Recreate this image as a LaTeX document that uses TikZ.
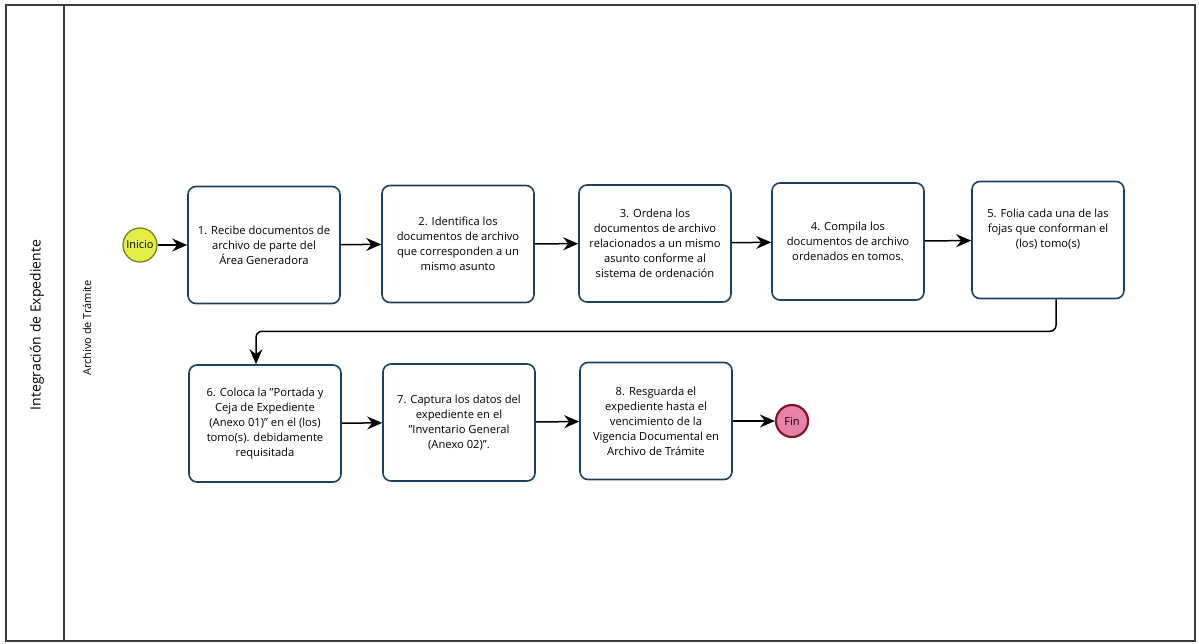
\documentclass[tikz,border=0pt]{standalone}
\usepackage{fontspec}
\setmainfont{Open Sans}
\usetikzlibrary{arrows.meta}
\definecolor{taskblue}{RGB}{28,66,96}
\definecolor{startfill}{RGB}{228,238,70}
\definecolor{startline}{RGB}{120,130,30}
\definecolor{endfill}{RGB}{232,130,168}
\definecolor{endline}{RGB}{130,20,40}
\definecolor{poolline}{RGB}{60,60,60}
\tikzset{
  task/.style={draw=taskblue, line width=1.6pt, rounded corners=8pt, fill=white,
    minimum width=152pt, minimum height=117pt, align=center, inner sep=2pt,
    font=\fontsize{11.2}{15}\selectfont},
  startev/.style={circle, draw=startline, line width=1.3pt, fill=startfill,
    minimum size=34pt, inner sep=0pt, font=\fontsize{11}{12}\selectfont},
  endev/.style={circle, draw=endline, line width=2.2pt, fill=endfill,
    minimum size=32pt, inner sep=0pt, font=\fontsize{11}{12}\selectfont},
  flow/.style={line width=1.5pt, -{Stealth[length=15pt,width=13pt,inset=5pt]}},
}
\begin{document}
\begin{tikzpicture}[x=1pt,y=-1pt]
\useasboundingbox (0,0) rectangle (1199,643);
% pool and lane frame
\draw[poolline, line width=1.3pt] (6,5) rectangle (1195,641);
\draw[poolline, line width=1.3pt] (64,5) -- (64,641);
\node[rotate=90, font=\fontsize{14}{16}\selectfont] (pool) at (37,325) {Integración de Expediente};
\node[rotate=90, font=\fontsize{11}{13}\selectfont] (lane) at (87,328) {Archivo de Trámite};

% events
\node[startev] (inicio) at (140,245) {Inicio};
\node[endev] (fin) at (792,421) {Fin};

% tasks, first row
\node[task] (t1) at (264,245) {1. Recibe documentos de\\archivo de parte del\\Área Generadora};
\node[task] (t2) at (458,244) {2. Identifica los\\documentos de archivo\\que corresponden a un\\mismo asunto};
\node[task] (t3) at (655,243.5) {3. Ordena los\\documentos de archivo\\relacionados a un mismo\\asunto conforme al\\sistema de ordenación};
\node[task] (t4) at (848,241.5) {4. Compila los\\documentos de archivo\\ordenados en tomos.};
\node[task] (t5) at (1048,240) {5. Folia cada una de las\\fojas que conforman el\\(los) tomo(s)\\[8pt]};
% tasks, second row
\node[task] (t6) at (265,423.5) {6. Coloca la "Portada y\\Ceja de Expediente\\(Anexo 01)" en el (los)\\tomo(s). debidamente\\requisitada};
\node[task] (t7) at (459,422.5) {7. Captura los datos del\\expediente en el\\"Inventario General\\(Anexo 02)".};
\node[task] (t8) at (656,421) {8. Resguarda el\\expediente hasta el\\vencimiento de la\\Vigencia Documental en\\Archivo de Trámite};

% sequence flows
\draw[flow] (inicio) -- (t1);
\draw[flow] (t1) -- (t2);
\draw[flow] (t2) -- (t3);
\draw[flow] (t3) -- (t4);
\draw[flow] (t4) -- (t5);
\draw[flow, rounded corners=6pt] ([xshift=8pt]t5.south) -- ++(0,32) -| ([xshift=-9pt]t6.north);
\draw[flow] (t6) -- (t7);
\draw[flow] (t7) -- (t8);
\draw[flow] (t8) -- (fin);
\end{tikzpicture}
\end{document}
